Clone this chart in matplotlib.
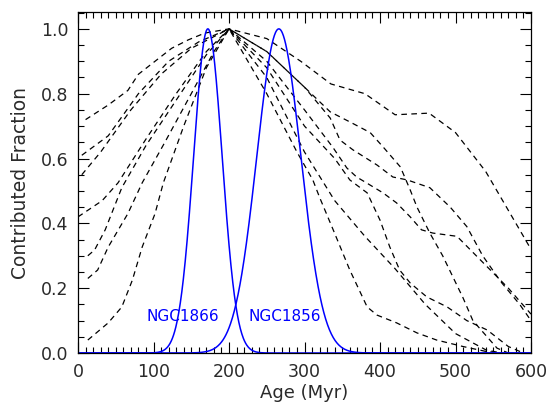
import numpy as np
import matplotlib.pyplot as plt
from matplotlib.ticker import MultipleLocator

# dashed model curves (age in Myr, contributed fraction)
age1 = [10, 40, 66, 80, 102, 124, 146, 168, 200, 250, 295, 335, 350, 380, 420, 465, 500, 540, 580, 600]
frac1 = [0.72, 0.765, 0.81, 0.86, 0.90, 0.94, 0.966, 0.987, 1.0, 0.97, 0.90, 0.83, 0.82, 0.80, 0.735, 0.74, 0.68, 0.56, 0.40, 0.32]

age2 = [5, 40, 80, 120, 160, 200, 250, 300, 334, 347, 364, 396, 417, 436, 466, 493, 515, 536, 560, 585, 600]
frac2 = [0.61, 0.67, 0.80, 0.90, 0.96, 1.0, 0.93, 0.82, 0.725, 0.657, 0.627, 0.58, 0.543, 0.534, 0.51, 0.45, 0.39, 0.30, 0.22, 0.15, 0.10]

age3 = [5, 30, 70, 110, 150, 200, 250, 300, 338, 356, 369, 382, 404, 422, 440, 455, 470, 502, 536, 570, 600]
frac3 = [0.55, 0.62, 0.75, 0.86, 0.94, 1.0, 0.90, 0.75, 0.633, 0.571, 0.543, 0.525, 0.494, 0.463, 0.42, 0.38, 0.37, 0.36, 0.28, 0.20, 0.12]

age4 = [0, 32, 53, 90, 130, 170, 200, 250, 300, 334, 360, 387, 404, 427, 440, 449, 466, 483, 510, 523, 555, 570]
frac4 = [0.42, 0.47, 0.525, 0.66, 0.80, 0.93, 1.0, 0.93, 0.82, 0.744, 0.713, 0.68, 0.636, 0.574, 0.503, 0.45, 0.37, 0.30, 0.17, 0.10, 0.015, 0.0]

age5 = [13, 22, 36, 58, 90, 130, 170, 200, 250, 300, 340, 360, 383, 400, 413, 426, 440, 462, 489, 515, 542, 570, 590]
frac5 = [0.30, 0.318, 0.38, 0.51, 0.64, 0.78, 0.92, 1.0, 0.88, 0.70, 0.60, 0.534, 0.494, 0.41, 0.327, 0.256, 0.216, 0.173, 0.142, 0.10, 0.071, 0.02, 0.0]

age6 = [13, 26, 40, 66, 85, 115, 150, 180, 200, 250, 300, 340, 380, 420, 460, 500, 540, 560]
frac6 = [0.23, 0.256, 0.327, 0.43, 0.525, 0.65, 0.80, 0.93, 1.0, 0.85, 0.62, 0.47, 0.36, 0.26, 0.15, 0.06, 0.01, 0.0]

age7 = [13, 40, 58, 72, 85, 102, 113, 140, 170, 200, 250, 290, 311, 320, 338, 360, 383, 396, 422, 449, 475, 510, 540, 560]
frac7 = [0.04, 0.093, 0.142, 0.225, 0.327, 0.43, 0.525, 0.70, 0.88, 1.0, 0.80, 0.62, 0.534, 0.48, 0.38, 0.256, 0.142, 0.117, 0.093, 0.062, 0.04, 0.02, 0.005, 0.0]

models = [(age1, frac1), (age2, frac2), (age3, frac3), (age4, frac4),
          (age5, frac5), (age6, frac6), (age7, frac7)]

# cluster age distributions (gaussian: name, centre, sigma in Myr)
clusters = ['NGC1866', 'NGC1856']
centres = [172, 266]
sigmas = [18.9, 29.2]
label_age = [91, 226]
label_frac = [0.114, 0.114]

fig = plt.figure(figsize=(5.51, 4.11), dpi=100)
ax = fig.add_axes([0.1416, 0.1411, 0.8221, 0.8297])

for a, f in models:
    ax.plot(a, f, color='black', lw=0.9, linestyle=(0, (4.5, 3.5)))

t = np.linspace(0, 600, 1201)
for name, c, s, lx, ly in zip(clusters, centres, sigmas, label_age, label_frac):
    ax.plot(t, np.exp(-0.5 * ((t - c) / s) ** 2), color='#0000ff', lw=1.1)
    ax.text(lx, ly, name, color='#0000ff', fontsize=11, va='center', ha='left')

ax.set_xlim(0, 600)
ax.set_ylim(0, 1.052)
ax.xaxis.set_major_locator(MultipleLocator(100))
ax.xaxis.set_minor_locator(MultipleLocator(10))
ax.yaxis.set_major_locator(MultipleLocator(0.2))
ax.yaxis.set_minor_locator(MultipleLocator(0.05))
ax.yaxis.set_major_formatter(plt.FormatStrFormatter('%.1f'))
ax.tick_params(which='both', direction='in', top=True, right=True,
               labelsize=12.5, labelcolor='#2a2a2a', width=0.8)
ax.tick_params(which='major', length=8, pad=7)
ax.tick_params(which='minor', length=4)
for sp in ax.spines.values():
    sp.set_linewidth(0.9)

ax.set_xlabel('Age (Myr)', fontsize=13, color='#2a2a2a', labelpad=2)
ax.set_ylabel('Contributed Fraction', fontsize=13.5, color='#2a2a2a', labelpad=8)

fig.savefig('out.png', dpi=100)
